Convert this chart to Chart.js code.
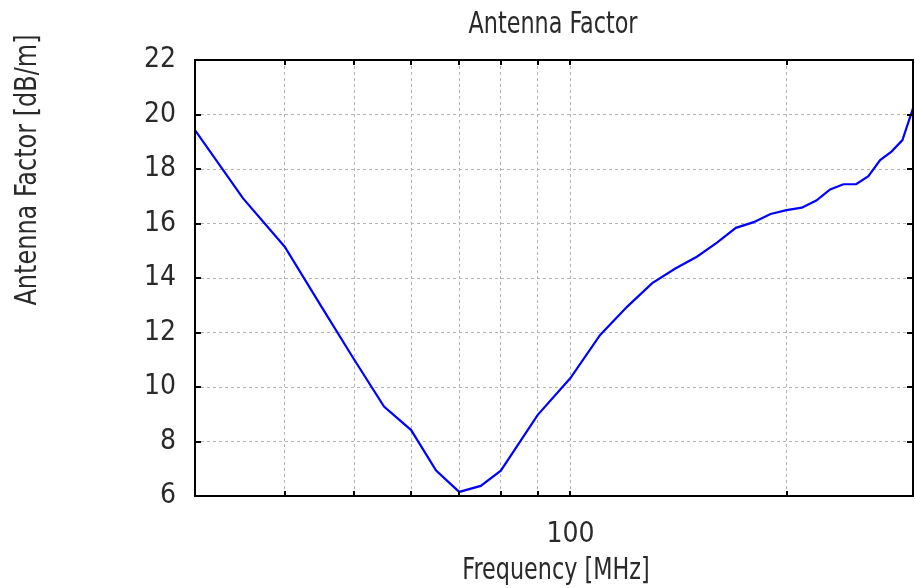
<!DOCTYPE html>
<html>
<head>
<meta charset="utf-8">
<script src="https://cdn.jsdelivr.net/npm/chart.js@4/dist/chart.umd.min.js"></script>
<style>
  html, body { margin: 0; padding: 0; background: #fff; }
  canvas { display: block; }
</style>
</head>
<body>
<canvas id="af" width="915" height="588"></canvas>
<script>
// Frequency in MHz, antenna factor in dB/m
const freqs  = [30, 35, 40, 45, 50, 55, 60, 65, 70, 75, 80, 90, 100,
                110, 120, 130, 140, 150, 160, 170, 180, 190, 200,
                210, 220, 230, 240, 250, 260, 270, 280, 290, 300];
const factor = [19.43, 16.92, 15.15, 12.95, 11.0, 9.28, 8.42, 6.93, 6.15, 6.37, 6.93, 8.97, 10.33,
                11.91, 12.95, 13.81, 14.35, 14.78, 15.3, 15.84, 16.05, 16.35, 16.49,
                16.58, 16.84, 17.25, 17.44, 17.44, 17.74, 18.33, 18.64, 19.06, 20.23];

const xTicks  = [30, 40, 50, 60, 70, 80, 90, 100, 200, 300];
const xLabels = { 100: '100' };
const yTicks  = [6, 8, 10, 12, 14, 16, 18, 20, 22];

const FONT = "'Liberation Sans Narrow', 'DejaVu Sans Condensed', 'Roboto Condensed', sans-serif";
const TXT = '#2a2a2a';

// narrow text like the plotter font: squeeze horizontally
function squeezed(ctx, text, x, y, sx, angle) {
    ctx.save();
    ctx.translate(x, y);
    if (angle) ctx.rotate(angle);
    ctx.scale(sx, 1);
    ctx.fillText(text, 0, 0);
    ctx.restore();
}

const frame = {
    id: 'frame',
    afterDraw(chart) {
        const { ctx, chartArea: a, scales: { x, y } } = chart;
        ctx.save();
        // inner tick marks
        ctx.strokeStyle = '#000';
        ctx.lineWidth = 2;
        ctx.beginPath();
        xTicks.forEach(v => {
            const px = Math.round(x.getPixelForValue(v));
            ctx.moveTo(px, a.top);    ctx.lineTo(px, a.top + 5);
            ctx.moveTo(px, a.bottom); ctx.lineTo(px, a.bottom - 5);
        });
        yTicks.forEach(v => {
            const py = Math.round(y.getPixelForValue(v));
            ctx.moveTo(a.left, py);  ctx.lineTo(a.left + 6, py);
            ctx.moveTo(a.right, py); ctx.lineTo(a.right - 6, py);
        });
        ctx.stroke();
        ctx.strokeRect(a.left, a.top, a.right - a.left, a.bottom - a.top);

        // titles
        ctx.fillStyle = TXT;
        ctx.textAlign = 'center';
        ctx.textBaseline = 'middle';
        ctx.font = '31px ' + FONT;
        squeezed(ctx, 'Antenna Factor', 553, 25, 0.8);
        squeezed(ctx, 'Frequency [MHz]', 556, 571, 0.8);
        squeezed(ctx, 'Antenna Factor [dB/m]', 28, 170, 0.86, -Math.PI / 2);
        ctx.restore();
    }
};

new Chart(document.getElementById('af'), {
    type: 'line',
    data: {
        datasets: [{
            data: freqs.map((f, i) => ({ x: f, y: factor[i] })),
            borderColor: '#0000ff', borderWidth: 2.2,
            pointRadius: 0, fill: false, tension: 0
        }]
    },
    options: {
        responsive: false,
        devicePixelRatio: 1,
        animation: false,
        layout: { padding: { top: 60, right: 2, left: 0, bottom: 0 } },
        plugins: { legend: { display: false }, tooltip: { enabled: false }, title: { display: false } },
        scales: {
            x: {
                type: 'logarithmic', min: 30, max: 300,
                afterBuildTicks: s => { s.ticks = xTicks.map(v => ({ value: v })); },
                afterFit: s => { s.height = 92; s.paddingLeft = 0; s.paddingRight = 0; },
                ticks: {
                    autoSkip: false, maxRotation: 0, padding: 22,
                    color: TXT, font: { family: FONT, size: 28 },
                    callback: v => xLabels[v] || ''
                },
                grid: { color: '#b4b4b4', lineWidth: 1, drawTicks: false },
                border: { display: false, dash: [3, 3] }
            },
            y: {
                min: 6, max: 22,
                afterBuildTicks: s => { s.ticks = yTicks.map(v => ({ value: v })); },
                afterFit: s => { s.width = 195; s.paddingTop = 0; s.paddingBottom = 0; },
                ticks: {
                    padding: 19, color: TXT, font: { family: FONT, size: 28 }
                },
                grid: { color: '#b4b4b4', lineWidth: 1, drawTicks: false },
                border: { display: false, dash: [3, 3] }
            }
        }
    },
    plugins: [frame]
});
</script>
</body>
</html>
